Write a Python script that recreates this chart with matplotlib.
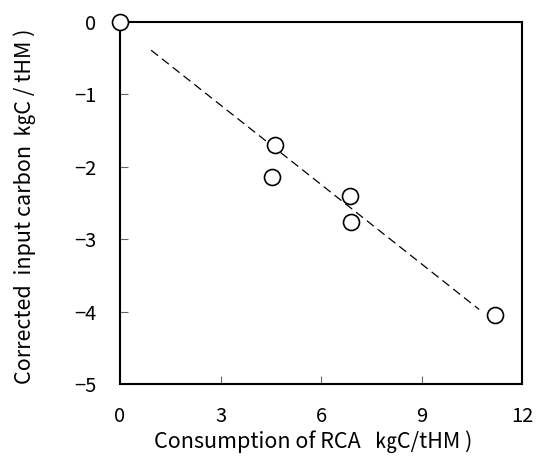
import matplotlib
matplotlib.use("Agg")
import matplotlib.pyplot as plt

plt.rcParams['font.family'] = ['Noto Sans CJK JP', 'DejaVu Sans']

# measured points
rca = [0, 4.63, 4.54, 6.86, 6.89, 11.2]
carbon = [0, -1.70, -2.14, -2.40, -2.76, -4.05]

# dashed trend line ends
trend_x = [0.93, 10.72]
trend_y = [-0.39, -3.97]

xticks = [0, 3, 6, 9, 12]
yticks = [0, -1, -2, -3, -4, -5]

fig = plt.figure(figsize=(5.41, 4.61), dpi=100)
ax = fig.add_axes([120/541, 1-384/461, 402/541, 362/461])

ax.plot(trend_x, trend_y, color="black", lw=0.9, ls=(0, (7, 4)))
ax.plot(rca, carbon, "o", ms=11.5, mfc="white", mec="black", mew=1.2, clip_on=False, zorder=3)

ax.set_xlim(0, 12)
ax.set_ylim(-5, 0)
ax.set_xticks(xticks)
ax.set_yticks(yticks)
ax.set_yticklabels(["0", "\u22121", "\u22122", "\u22123", "\u22124", "\u22125"])
ax.tick_params(direction="in", length=6, width=0.8, color="#666666", labelsize=14.5, pad=17)
ax.tick_params(axis="x", pad=16)

for s in ax.spines.values():
    s.set_linewidth(1.5)

ax.set_xlabel("Consumption of RCA   \u338fC/tHM )", fontsize=15.5)
ax.xaxis.set_label_coords(0.48, -0.128)
ax.set_ylabel("Corrected  input carbon  \u338fC / tHM )", fontsize=15.5)
ax.yaxis.set_label_coords(-0.21, 0.49)

fig.savefig("out.png", dpi=100)
